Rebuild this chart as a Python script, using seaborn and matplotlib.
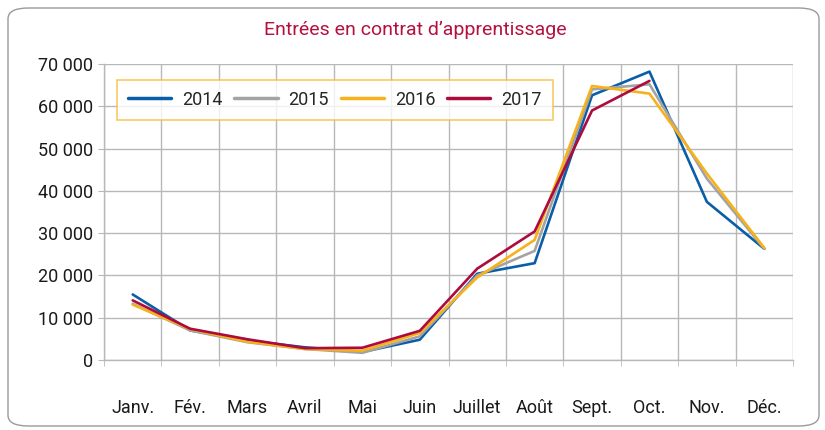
import matplotlib
matplotlib.use('Agg')
import matplotlib.pyplot as plt
from matplotlib.patches import FancyBboxPatch
from matplotlib.ticker import FuncFormatter, FixedLocator
import numpy as np
import pandas as pd
import seaborn as sns

months = ['Janv.', 'Fév.', 'Mars', 'Avril', 'Mai', 'Juin',
          'Juillet', 'Août', 'Sept.', 'Oct.', 'Nov.', 'Déc.']
y2014 = [15500, 7000, 4600, 3000, 1900, 4800, 20400, 22900, 62600, 68200, 37400, 26300]
y2015 = [13300, 7000, 4200, 2600, 1700, 5600, 20000, 25800, 64000, 65200, 42900, 26300]
y2016 = [13100, 7300, 4300, 2600, 2200, 6400, 19500, 28400, 64800, 63000, 44100, 26500]
y2017 = [14100, 7400, 4900, 2800, 2900, 6900, 21600, 30400, 59000, 66000, np.nan, np.nan]
years = ['2014', '2015', '2016', '2017']
colors = ['#0a5ea8', '#a3a3a3', '#f7b21b', '#ad0b3e']

df = pd.concat([
    pd.DataFrame({'mois': months, 'pos': range(len(months)), 'entrees': vals, 'annee': yr})
    for yr, vals in zip(years, [y2014, y2015, y2016, y2017])
], ignore_index=True)

sns.set_style('white')
plt.rcParams['font.family'] = ['Roboto', 'DejaVu Sans']

fig = plt.figure(figsize=(8.25, 4.3), dpi=100)
ax = fig.add_axes([104 / 825, 1 - 360 / 430, 689 / 825, 296 / 430])

sns.lineplot(data=df, x='pos', y='entrees', hue='annee', palette=dict(zip(years, colors)),
             linewidth=1.9, ax=ax, sort=False)

ax.set_xlim(-0.5, len(months) - 0.5)
ax.set_ylim(0, 70000)
ax.set_yticks(np.arange(0, 70001, 10000))
ax.yaxis.set_major_formatter(FuncFormatter(lambda v, p: f'{int(v):,}'.replace(',', ' ')))
ax.set_xticks(range(len(months)))
ax.set_xticklabels(months)
ax.xaxis.set_minor_locator(FixedLocator(np.arange(-0.5, len(months), 1.0)))
ax.set_xlabel('')
ax.set_ylabel('')

grid_c = '#b8b8b8'
ax.grid(False)
ax.grid(axis='y', which='major', color=grid_c, linewidth=1.0)
ax.grid(axis='x', which='minor', color=grid_c, linewidth=1.0)
ax.set_axisbelow(True)
for side in ['top', 'right']:
    ax.spines[side].set_visible(False)
for side in ['left', 'bottom']:
    ax.spines[side].set_color(grid_c)
    ax.spines[side].set_linewidth(1.0)

ax.tick_params(axis='x', which='major', length=0, pad=28, labelsize=13, colors='#1a1a1a')
ax.tick_params(axis='x', which='minor', length=4, color=grid_c, direction='out', bottom=True)
ax.tick_params(axis='y', which='major', length=4, color=grid_c, pad=4, labelsize=13,
               labelcolor='#1a1a1a', left=True)

leg = ax.legend(loc='upper left', bbox_to_anchor=(0.019, 0.946), ncol=4, frameon=True,
                fontsize=13, handlelength=2.4, borderaxespad=0, borderpad=0.6,
                fancybox=False, columnspacing=0.65, handletextpad=0.6)
leg.get_frame().set_edgecolor('#f6bd3c')
leg.get_frame().set_linewidth(1.2)
for line in leg.get_lines():
    line.set_linewidth(2.5)

fig.text(0.503, 1 - 30 / 430, 'Entrées en contrat d’apprentissage', ha='center', va='center',
         fontsize=14, color='#b5113f')

border = FancyBboxPatch((8 / 825, 4 / 430), 811 / 825, 418 / 430,
                        boxstyle='round,pad=0,rounding_size=0.025', transform=fig.transFigure,
                        facecolor='none', edgecolor='#9a9a9a', linewidth=1.0, zorder=-1)
fig.patches.append(border)

fig.savefig('out.png', dpi=100)
